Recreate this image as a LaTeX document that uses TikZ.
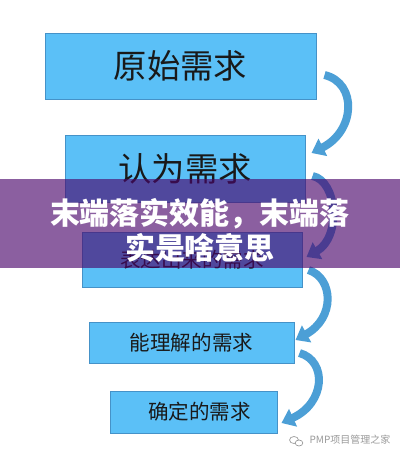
\documentclass[tikz,border=0pt]{standalone}
\usepackage{fontspec}
\newfontfamily\cjk{Noto Sans CJK SC}
\usetikzlibrary{arrows.meta,calc}
\definecolor{boxfill}{HTML}{5BC0F7}
\definecolor{boxline}{HTML}{4592C8}
\definecolor{arrcol}{HTML}{4C9FD6}
\definecolor{bannercol}{HTML}{4A056B}
\definecolor{wmcol}{HTML}{9A9A9A}
\tikzset{
  reqbox/.style={draw=boxline, line width=0.75pt, fill=boxfill, inner sep=0pt, font=\cjk, text=black!90},
  bigtxt/.style={font=\cjk\fontsize{25}{30}\selectfont},
  smalltxt/.style={font=\cjk\fontsize{15.4}{18}\selectfont},
  curvearr/.style={draw=arrcol, line width=6pt, -{Triangle[width=14pt,length=9.5pt]}},
}
\begin{document}
\begin{tikzpicture}[x=0.75pt,y=-0.75pt]
\useasboundingbox (0,0) rectangle (400,457);
\fill[white] (0,0) rectangle (400,457);
% boxes
\node[reqbox, bigtxt, minimum width=203.25pt, minimum height=49.5pt] (b1) at (180.5,66) {原始需求};
\node[reqbox, bigtxt, minimum width=180pt, minimum height=50.25pt] (b2) at (185,168.5) {认为需求};
\node[reqbox, smalltxt, minimum width=165pt, minimum height=41.25pt] (b3) at (192,259.5) {表达出来的需求};
\node[reqbox, smalltxt, minimum width=153.75pt, minimum height=30.75pt] (b4) at (191.5,342.5) {能理解的需求};
\node[reqbox, smalltxt, minimum width=125.25pt, minimum height=31.5pt] (b5) at (193.5,412) {\hspace*{9pt}确定的需求};
% curved arrows
\draw[curvearr] ($(b1.east)+(8,9)$) .. controls +(33,8) and +(44,-22) .. ($(b2.east)+(6,-15.5)$);
\draw[curvearr] ($(b2.east)+(7,7.5)$) .. controls +(25,5) and +(35,-20) .. ($(b3.east)+(4,-2.5)$);
\draw[curvearr] ($(b3.east)+(6,10.5)$) .. controls +(25,8) and +(40,-22) .. ($(b4.east)+(1,-2.5)$);
\draw[curvearr] ($(b4.east)+(5,10.5)$) .. controls +(28,8) and +(44,-20) .. ($(b5.east)+(4,11)$);
% banner
\fill[bannercol, opacity=0.64] (0,179) rectangle (400,268);
\node[font=\cjk\bfseries\fontsize{22.5}{26.25}\selectfont, text=white, align=center, inner sep=0pt] (title) at (200,230.5) {末端落实效能，末端落\\实是啥意思};
% watermark
\node[font=\cjk\fontsize{7.5}{9}\selectfont, text=wmcol, inner sep=0pt] (wm) at (350,440) {PMP项目管理之家};
\draw[wmcol, line width=0.5pt] (294,440) ellipse (4.5 and 3.5);
\draw[wmcol, line width=0.5pt, fill=white] (299,443) ellipse (3.8 and 3);
\end{tikzpicture}
\end{document}
